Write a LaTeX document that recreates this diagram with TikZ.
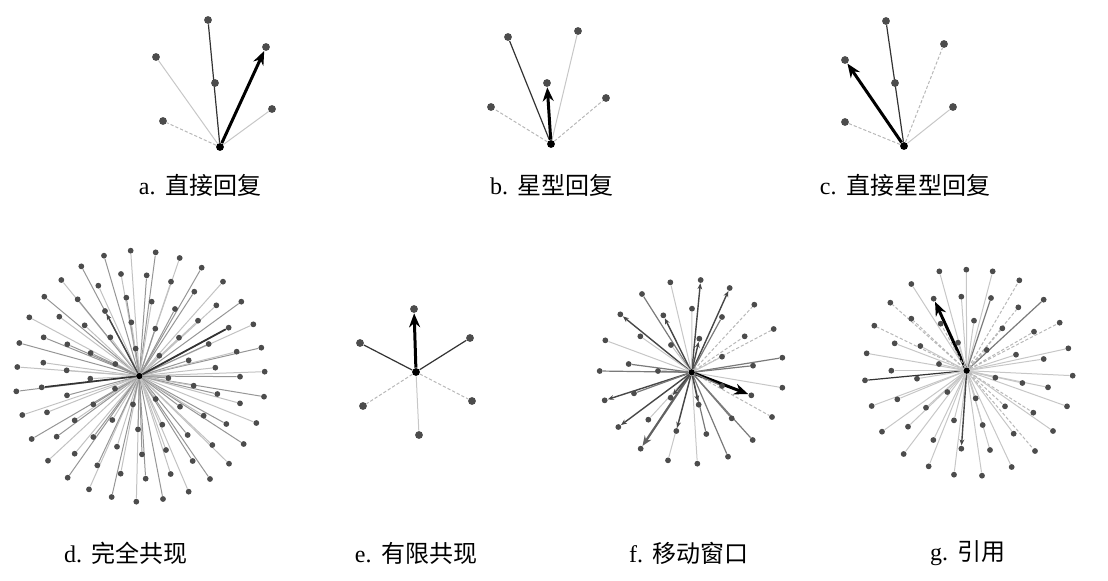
\documentclass[tikz,border=0pt]{standalone}
\usepackage{fontspec}
\setmainfont{Liberation Serif}
\newfontfamily\cjk{Noto Sans CJK SC}
\usetikzlibrary{arrows.meta,backgrounds}

% dot lists of the dense panels (pixel offsets inside each panel)
\def\dlist{312/77,392/62,467/67,539/84,605/113,669/155,724/215,760/283,784/353,794/425,792/500,769/579,731/642,687/701,630/747,566/785,489/807,409/815,335/801,267/778,203/743,144/692,95/627,67/555,49/484,52/411,58/339,88/262,133/200,184/150,244/109,%
363/132,440/136,513/155,583/185,649/226,686/293,710/365,720/440,720/520,679/582,637/645,578/693,512/732,437/746,362/731,292/706,224/671,170/620,141/547,125/472,130/398,131/322,178/260,233/208,295/167,%
379/203,455/215,525/237,594/272,626/342,646/413,652/492,611/557,563/615,498/660,426/673,351/650,280/621,224/571,201/496,200/421,202/343,254/286,315/243,%
394/277,466/296,537/323,566/391,581/467,540/530,487/584,414/598,337/570,280/523,271/446,272/369,331/322,%
407/356,478/377,505/444,467/507,399/523,345/476,346/402}

\def\flist{271/127/lt,362/120/ar,449/144/ar,523/194/ls,581/267/ls,607/353/md,607/443/lt,576/531/ls,518/600/md,444/650/md,352/671/lt,264/661/lt,182/626/mbig,115/561/ar,74/481/ar,59/393/md,76/301/lt,121/223/ar,186/162/md,%
336/206/lt,426/231/md,494/289/ls,519/377/md,514/466/big,455/535/md,379/582/md,289/573/ar,205/539/lt,162/460/md,146/372/md,181/289/lt,250/226/ar,%
358/296/ar,426/350/lt,426/438/md,356/494/ar,272/473/ar,234/393/md,273/315/lt}

\def\glist{268/94/lt,349/89/lt,428/94/lt,508/121/ls,581/179/md,629/248/ls,655/325/lt,668/407/lt,651/499/lt,609/573/lt,555/633/ls,485/681/lt,396/707/lt,312/704/lt,236/679/lt,161/642/lt,96/575/lt,65/498/lt,45/421/dk,50/340/lt,73/257/ls,121/188/ls,184/132/lt,%
334/170/lt,423/174/md,505/202/ls,552/275/ls,581/357/lt,594/442/lt,550/518/ls,491/581/lt,420/630/lt,334/626/ar,250/600/lt,174/560/lt,142/478/lt,124/392/lt,134/310/lt,184/236/ls,251/176/big,%
372/242/lt,457/265/ls,498/344/lt,517/429/lt,465/499/ls,398/555/lt,312/541/lt,228/503/lt,201/416/lt,211/318/lt,272/251/ls,%
324/308/lt,410/330/ls,436/413/lt,377/475/lt,292/456/lt,267/372/lt}

\begin{document}
\begin{tikzpicture}[x=0.5pt, y=-0.5pt,
  dot/.style={circle, fill=black!70, inner sep=0pt, minimum size=3.9pt},
  sdot/.style={circle, fill=black!70, inner sep=0pt, minimum size=2.9pt},
  hub/.style={circle, fill=black, inner sep=0pt, minimum size=3.9pt},
  shub/.style={circle, fill=black, inner sep=0pt, minimum size=3.2pt},
  lt/.style={draw=black!22, line width=0.5pt},
  ls/.style={draw=black!28, line width=0.5pt, dash pattern=on 1.6pt off 1pt},
  md/.style={draw=black!52, line width=0.6pt},
  dk/.style={draw=black!80, line width=0.6pt},
  ar/.style={draw=black!72, line width=0.7pt, -{Stealth[length=3pt,width=2.4pt]}},
  mbig/.style={draw=black!62, line width=1.1pt, -{Stealth[length=5pt,width=4pt]}},
  big/.style={draw=black, line width=1.5pt, -{Stealth[length=7pt,width=5.5pt]}},
  lbl/.style={font=\fontsize{12}{14}\selectfont}]
\path[use as bounding box] (0,0) rectangle (1108,580);

% a. direct reply
\node[hub] (a0) at (220,147) {};
\node[dot] (a1) at (208,20) {};
\node[dot] (a2) at (215,83) {};
\node[dot] (a3) at (156,57) {};
\node[dot] (a4) at (266,47) {};
\node[dot] (a5) at (163,121) {};
\node[dot] (a6) at (272,109) {};
\begin{scope}[on background layer]
  \draw[dk] (a0) -- (a1);
  \draw[lt] (a0) -- (a3);
  \draw[ls] (a0) -- (a5);
  \draw[lt] (a0) -- (a6);
\end{scope}
\draw[big] (a0) -- (a4);
\node[lbl] (la) at (200,185) {a.\hspace{0.4em}{\cjk 直接回复}};

% b. star reply
\node[hub] (b0) at (551,144) {};
\node[dot] (b1) at (508,37) {};
\node[dot] (b2) at (578,31) {};
\node[dot] (b3) at (547,83) {};
\node[dot] (b4) at (491,107) {};
\node[dot] (b5) at (606,98) {};
\begin{scope}[on background layer]
  \draw[dk] (b0) -- (b1);
  \draw[lt] (b0) -- (b2);
  \draw[ls] (b0) -- (b4);
  \draw[ls] (b0) -- (b5);
\end{scope}
\draw[big] (b0) -- (b3);
\node[lbl] (lb) at (552,185) {b.\hspace{0.4em}{\cjk 星型回复}};

% c. direct star reply
\node[hub] (c0) at (904,146) {};
\node[dot] (c1) at (886,21) {};
\node[dot] (c2) at (895,83) {};
\node[dot] (c3) at (944,44) {};
\node[dot] (c4) at (845,60) {};
\node[dot] (c5) at (845,122) {};
\node[dot] (c6) at (953,107) {};
\begin{scope}[on background layer]
  \draw[dk] (c0) -- (c1);
  \draw[ls] (c0) -- (c3);
  \draw[ls] (c0) -- (c5);
  \draw[lt] (c0) -- (c6);
\end{scope}
\draw[big] (c0) -- (c4);
\node[lbl] (lc) at (905,185) {c.\hspace{0.4em}{\cjk 直接星型回复}};

% d. full co-occurrence
\node[shub] (d0) at ({418/3},{230+438/3}) {};
\foreach \a/\b [count=\i] in \dlist
  \node[sdot] (d\i) at ({\a/3},{230+\b/3}) {};
\begin{scope}[on background layer]
  \foreach \i in {1,...,95} {
    \pgfmathtruncatemacro\g{24+mod(\i*17,34)}
    \draw[draw=black!\g, line width=0.5pt] (d0) -- (d\i);
  }
  \draw[dk, line width=0.9pt] (d0) -- (d37);
  \draw[dk, line width=0.8pt] (d0) -- (d51);
\end{scope}
\draw[ar] (d0) -- (d75);
\node[lbl] (ld) at (126,553) {d.\hspace{0.4em}{\cjk 完全共现}};

% e. limited co-occurrence
\node[hub] (e0) at (416,372) {};
\node[dot] (e1) at (414,309) {};
\node[dot] (e2) at (360,343) {};
\node[dot] (e3) at (470,338) {};
\node[dot] (e4) at (363,406) {};
\node[dot] (e5) at (419,435) {};
\node[dot] (e6) at (472,401) {};
\begin{scope}[on background layer]
  \draw[dk] (e0) -- (e2);
  \draw[dk] (e0) -- (e3);
  \draw[ls] (e0) -- (e4);
  \draw[lt] (e0) -- (e5);
  \draw[ls] (e0) -- (e6);
\end{scope}
\draw[big] (e0) -- (e1);
\node[lbl] (le) at (416,553) {e.\hspace{0.4em}{\cjk 有限共现}};

% f. moving window
\node[shub] (f0) at ({580+335/3},{240+397/3}) {};
\foreach \a/\b/\s [count=\i] in \flist
  \node[sdot] (f\i) at ({580+\a/3},{240+\b/3}) {};
\begin{scope}[on background layer]
  \foreach \a/\b/\s [count=\i] in \flist
    \draw[\s] (f0) -- (f\i);
\end{scope}
\node[lbl] (lf) at (689,553) {f.\hspace{0.4em}{\cjk 移动窗口}};

% g. citation
\node[shub] (g0) at ({850+350/3},{240+392/3}) {};
\foreach \a/\b/\s [count=\i] in \glist
  \node[sdot] (g\i) at ({850+\a/3},{240+\b/3}) {};
\begin{scope}[on background layer]
  \foreach \a/\b/\s [count=\i] in \glist
    \draw[\s] (g0) -- (g\i);
\end{scope}
\node[lbl] (lg) at (968,553) {g.\hspace{0.4em}{\cjk 引用}};
\end{tikzpicture}
\end{document}
